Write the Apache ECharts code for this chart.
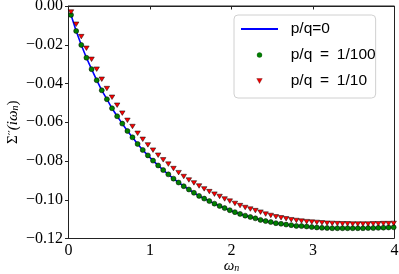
<!DOCTYPE html>
<html>
<head>
<meta charset="utf-8">
<script src="https://cdn.jsdelivr.net/npm/echarts@6/dist/echarts.min.js"></script>
<style>
html,body{margin:0;padding:0;background:#fff;}
#c{width:399px;height:274px;}
</style>
</head>
<body>
<div id="c"></div>
<script>
// Matsubara frequencies (x positions of the points)
const omega = [0.031,0.094,0.157,0.220,0.283,0.346,0.408,0.471,0.534,0.597,0.660,0.723,0.785,0.848,0.911,0.974,
1.037,1.100,1.162,1.225,1.288,1.351,1.414,1.477,1.539,1.602,1.665,1.728,1.791,1.854,1.916,1.979,
2.042,2.105,2.168,2.231,2.293,2.356,2.419,2.482,2.545,2.608,2.670,2.733,2.796,2.859,2.922,2.985,
3.047,3.110,3.173,3.236,3.299,3.362,3.424,3.487,3.550,3.613,3.676,3.739,3.801,3.864,3.927,3.990];

// p/q = 0 (blue line)
const sigmaQ0 = [-0.0046,-0.0129,-0.0201,-0.0267,-0.0326,-0.0383,-0.0435,-0.0481,-0.0528,-0.0569,-0.0607,-0.0645,-0.0678,-0.0712,-0.0743,-0.0771,
-0.0798,-0.0823,-0.0847,-0.0869,-0.0891,-0.0911,-0.0930,-0.0947,-0.0964,-0.0980,-0.0994,-0.1007,-0.1020,-0.1032,-0.1043,-0.1054,
-0.1064,-0.1073,-0.1082,-0.1089,-0.1096,-0.1104,-0.1110,-0.1115,-0.1121,-0.1124,-0.1128,-0.1131,-0.1135,-0.1136,-0.1138,-0.1141,
-0.1143,-0.1145,-0.1146,-0.1147,-0.1147,-0.1147,-0.1147,-0.1147,-0.1147,-0.1147,-0.1146,-0.1146,-0.1145,-0.1144,-0.1143,-0.1142];

// p/q = 1/100 (green circles)
const sigmaQ100 = [-0.0046,-0.0129,-0.0201,-0.0267,-0.0326,-0.0383,-0.0435,-0.0481,-0.0528,-0.0569,-0.0607,-0.0645,-0.0678,-0.0712,-0.0743,-0.0771,
-0.0798,-0.0823,-0.0847,-0.0869,-0.0891,-0.0911,-0.0930,-0.0947,-0.0964,-0.0980,-0.0994,-0.1007,-0.1020,-0.1032,-0.1043,-0.1054,
-0.1064,-0.1073,-0.1082,-0.1089,-0.1096,-0.1104,-0.1110,-0.1115,-0.1121,-0.1124,-0.1128,-0.1131,-0.1135,-0.1136,-0.1138,-0.1141,
-0.1143,-0.1145,-0.1146,-0.1147,-0.1147,-0.1147,-0.1147,-0.1147,-0.1147,-0.1147,-0.1146,-0.1146,-0.1145,-0.1144,-0.1143,-0.1142];

// p/q = 1/10 (red triangles)
const sigmaQ10 = [-0.0031,-0.0094,-0.0158,-0.0218,-0.0275,-0.0326,-0.0378,-0.0426,-0.0471,-0.0512,-0.0553,-0.0590,-0.0622,-0.0657,-0.0688,-0.0717,
-0.0744,-0.0770,-0.0794,-0.0816,-0.0839,-0.0860,-0.0880,-0.0898,-0.0913,-0.0929,-0.0944,-0.0958,-0.0971,-0.0983,-0.0996,-0.1007,
-0.1019,-0.1030,-0.1040,-0.1048,-0.1056,-0.1064,-0.1074,-0.1081,-0.1088,-0.1093,-0.1098,-0.1103,-0.1107,-0.1110,-0.1113,-0.1115,
-0.1117,-0.1119,-0.1121,-0.1122,-0.1123,-0.1124,-0.1124,-0.1125,-0.1125,-0.1125,-0.1125,-0.1124,-0.1124,-0.1123,-0.1123,-0.1122];

const seriesNames = ['p/q=0', 'p/q\u2002=\u20021/100', 'p/q\u2002=\u20021/10'];
const xMin = 0, xMax = 4, xStep = 1;
const yMin = -0.12, yMax = 0.0, yStep = 0.02;

const pairs = (xs, ys) => xs.map((x, i) => [x, ys[i]]);

const chart = echarts.init(document.getElementById('c'), null, {renderer: 'canvas'});
const serif = '"Liberation Serif", "DejaVu Serif", serif';

chart.setOption({
  animation: false,
  grid: {left: 68.5, right: 4.5, top: 6, bottom: 35.5, show: true, borderColor: '#222', borderWidth: 1,
         backgroundColor: 'transparent', containLabel: false, outerBoundsMode: 'none'},
  xAxis: {
    type: 'value', min: xMin, max: xMax, interval: xStep,
    axisLine: {show: true, lineStyle: {color: '#222', width: 1}},
    axisTick: {show: true, inside: false, length: 3.5, lineStyle: {color: '#222'}},
    splitLine: {show: false},
    axisLabel: {fontFamily: serif, fontSize: 16, color: '#000', margin: 4},
    name: '{w|ω}{n|n}', nameLocation: 'middle', nameGap: 20, nameMoveOverlap: false,
    nameTextStyle: {rich: {
      w: {fontFamily: serif, fontStyle: 'italic', fontSize: 15, color: '#000'},
      n: {fontFamily: serif, fontStyle: 'italic', fontSize: 10, color: '#000', padding: [5, 0, 0, 0]}
    }}
  },
  yAxis: {
    type: 'value', min: yMin, max: yMax, interval: yStep,
    axisLine: {show: true, lineStyle: {color: '#222', width: 1}},
    axisTick: {show: true, inside: false, length: 3.5, lineStyle: {color: '#222'}},
    splitLine: {show: false},
    axisLabel: {fontFamily: serif, fontSize: 16, color: '#000', margin: 5.5,
      formatter: v => (Math.abs(v) < 1e-9 ? '0.00' : '\u2212' + Math.abs(v).toFixed(2))},
    name: '{s|Σ}{p|\u2032\u2032}{i|(iω}{n|n}{s|)}', nameLocation: 'middle', nameRotate: 90, nameGap: 48, nameMoveOverlap: false,
    nameTextStyle: {rich: {
      s: {fontFamily: serif, fontSize: 15, color: '#000'},
      p: {fontFamily: '"DejaVu Sans", sans-serif', fontSize: 11, color: '#000'},
      i: {fontFamily: serif, fontStyle: 'italic', fontSize: 15, color: '#000'},
      n: {fontFamily: serif, fontStyle: 'italic', fontSize: 10, color: '#000', padding: [5, 0, 0, 0]}
    }}
  },
  legend: {
    orient: 'vertical', left: 234, top: 15,
    itemWidth: 37, itemHeight: 5, itemGap: 10,
    padding: [6, 0, 9, 6],
    backgroundColor: 'rgba(255,255,255,0.85)', borderColor: '#d0d0d0', borderWidth: 1, borderRadius: 4,
    selectedMode: false,
    formatter: name => '\u2002' + name,
    textStyle: {fontFamily: '"Liberation Sans", Arial, sans-serif', fontSize: 15.5, color: '#000'},
    data: [
      {name: seriesNames[0], itemStyle: {opacity: 0}},
      {name: seriesNames[1], icon: 'circle', itemStyle: {color: '#008000', borderColor: '#003300', borderWidth: 0.3}},
      {name: seriesNames[2], icon: 'path://M0,0L10,0L5,9Z', itemStyle: {color: '#ee0000', borderColor: '#330000', borderWidth: 0.3}}
    ]
  },
  series: [
    {name: seriesNames[0], type: 'line', data: pairs(omega, sigmaQ0), symbol: 'none', showSymbol: false,
     lineStyle: {color: '#0000ff', width: 1.6}, itemStyle: {color: '#0000ff'}, z: 2},
    {name: seriesNames[1], type: 'scatter', data: pairs(omega, sigmaQ100), symbol: 'circle', symbolSize: 5,
     itemStyle: {color: '#008000', borderColor: '#000', borderWidth: 0.5, opacity: 1}, z: 3},
    {name: seriesNames[2], type: 'scatter', data: pairs(omega, sigmaQ10), symbol: 'triangle', symbolRotate: 180, symbolSize: [5.5, 4.5],
     itemStyle: {color: '#ff0000', borderColor: '#000', borderWidth: 0.5, opacity: 1}, z: 4}
  ]
});
</script>
</body>
</html>
